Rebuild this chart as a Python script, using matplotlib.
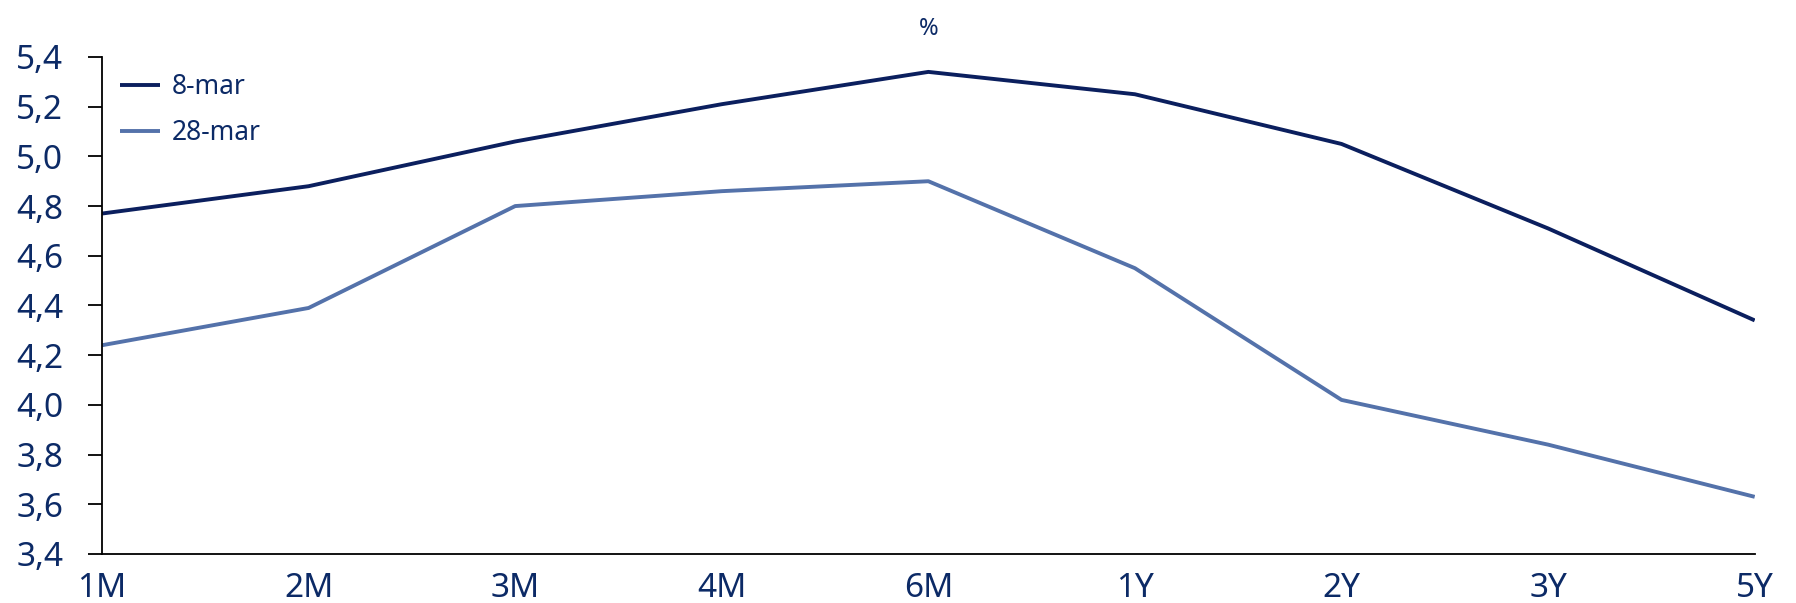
import matplotlib
matplotlib.use("Agg")
import matplotlib.pyplot as plt
from matplotlib.ticker import FuncFormatter, MultipleLocator

# datos de la curva
plazos = ["1M", "2M", "3M", "4M", "6M", "1Y", "2Y", "3Y", "5Y"]
curva_8mar = [4.77, 4.88, 5.06, 5.21, 5.34, 5.25, 5.05, 4.71, 4.34]
curva_28mar = [4.24, 4.39, 4.80, 4.86, 4.90, 4.55, 4.02, 3.84, 3.63]

azul_texto = "#0c2a66"
plt.rcParams['font.family'] = ['Noto Sans', 'DejaVu Sans']

fig = plt.figure(figsize=(17.96, 6.03), dpi=100)
ax = fig.add_axes([0.0568, 0.0813, 0.9202, 0.8242])

x = list(range(len(plazos)))
ax.plot(x, curva_8mar, color="#0b1f5e", lw=2.8, label="8-mar", solid_capstyle="butt")
ax.plot(x, curva_28mar, color="#5472aa", lw=2.8, label="28-mar", solid_capstyle="butt")

ax.set_xlim(0, len(plazos) - 1)
ax.set_ylim(3.4, 5.4)
ax.yaxis.set_major_locator(MultipleLocator(0.2))
ax.yaxis.set_major_formatter(FuncFormatter(lambda v, p: f"{v:.1f}".replace(".", ",")))
ax.set_xticks(x)
ax.set_xticklabels(plazos)

ax.spines["top"].set_visible(False)
ax.spines["right"].set_visible(False)
ax.spines["left"].set_linewidth(1.3)
ax.spines["bottom"].set_linewidth(1.3)
ax.tick_params(axis="y", length=10, width=1.3, pad=18, labelsize=24, labelcolor=azul_texto)
ax.tick_params(axis="x", length=0, pad=13, labelsize=24, labelcolor=azul_texto)

ax.set_title("%", fontsize=17, fontweight="bold", color=azul_texto, pad=16)

leg = ax.legend(loc="upper left", frameon=False, fontsize=19, handlelength=1.5,
                handletextpad=0.45, labelspacing=0.68, borderaxespad=0.3,
                bbox_to_anchor=(0.0, 1.005))
for t in leg.get_texts():
    t.set_color(azul_texto)

fig.savefig("out.png", dpi=100)
